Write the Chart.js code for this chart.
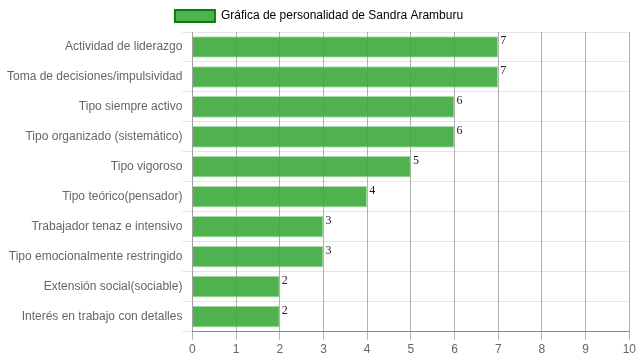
<!DOCTYPE html>
<html>
<head>
<meta charset="utf-8">
<script src="https://cdn.jsdelivr.net/npm/chart.js@4/dist/chart.umd.min.js"></script>
<style>
  html, body { margin: 0; padding: 0; background: #fff; }
  #wrap { width: 639px; height: 360px; }
</style>
</head>
<body>
<div id="wrap"><canvas id="personalidad"></canvas></div>
<script>
const categorias = [
    'Actividad de liderazgo',
    'Toma de decisiones/impulsividad',
    'Tipo siempre activo',
    'Tipo organizado (sistemático)',
    'Tipo vigoroso',
    'Tipo teórico(pensador)',
    'Trabajador tenaz e intensivo',
    'Tipo emocionalmente restringido',
    'Extensión social(sociable)',
    'Interés en trabajo con detalles'
];
const puntajes = [7, 7, 6, 6, 5, 4, 3, 3, 2, 2];
const etiquetaSerie = 'Gráfica de personalidad de Sandra Aramburu';

Chart.defaults.font.family = '"Liberation Sans", Arial, sans-serif';
Chart.defaults.font.size = 12;
Chart.defaults.color = '#666';

// numero al final de cada barra
const valoresEnBarras = {
    id: 'valoresEnBarras',
    afterDatasetsDraw(chart) {
        const c = chart.ctx;
        c.save();
        c.font = '12px "Liberation Serif", "Times New Roman", serif';
        c.fillStyle = '#222';
        c.textAlign = 'left';
        c.textBaseline = 'top';
        chart.getDatasetMeta(0).data.forEach((bar, i) => {
            const top = bar.y - bar.height / 2;
            c.fillText(puntajes[i], bar.x + 2, top - 1);
        });
        c.restore();
    }
};

const ctx = document.getElementById('personalidad').getContext('2d');

new Chart(ctx, {
    type: 'bar',
    data: {
        labels: categorias,
        datasets: [{
            label: etiquetaSerie,
            data: puntajes,
            backgroundColor: 'rgba(60,170,60,0.9)',
            borderColor: 'rgba(120,200,120,0.6)',
            borderWidth: 1,
            barPercentage: 0.9,
            categoryPercentage: 0.8
        }]
    },
    options: {
        indexAxis: 'y',
        responsive: true,
        maintainAspectRatio: false,
        animation: false,
        layout: { padding: { left: 7, right: 8, top: 0 } },
        plugins: {
            legend: {
                labels: {
                    boxWidth: 40,
                    boxHeight: 12,
                    generateLabels(chart) {
                        return [{
                            text: etiquetaSerie,
                            fillStyle: 'rgba(60,170,60,0.9)',
                            strokeStyle: '#0a7d0a',
                            lineWidth: 2,
                            datasetIndex: 0
                        }];
                    }
                }
            },
            tooltip: { enabled: false }
        },
        scales: {
            x: {
                min: 0,
                max: 10,
                ticks: { stepSize: 1, color: '#666' },
                grid: { color: 'rgba(0,0,0,0.3)', tickLength: 8 },
                border: { color: 'rgba(0,0,0,0.4)' }
            },
            y: {
                ticks: { color: '#666', padding: 0 },
                grid: { color: 'rgba(0,0,0,0.1)', tickLength: 10 },
                border: { color: 'rgba(0,0,0,0.1)' }
            }
        }
    },
    plugins: [valoresEnBarras]
});
</script>
</body>
</html>
